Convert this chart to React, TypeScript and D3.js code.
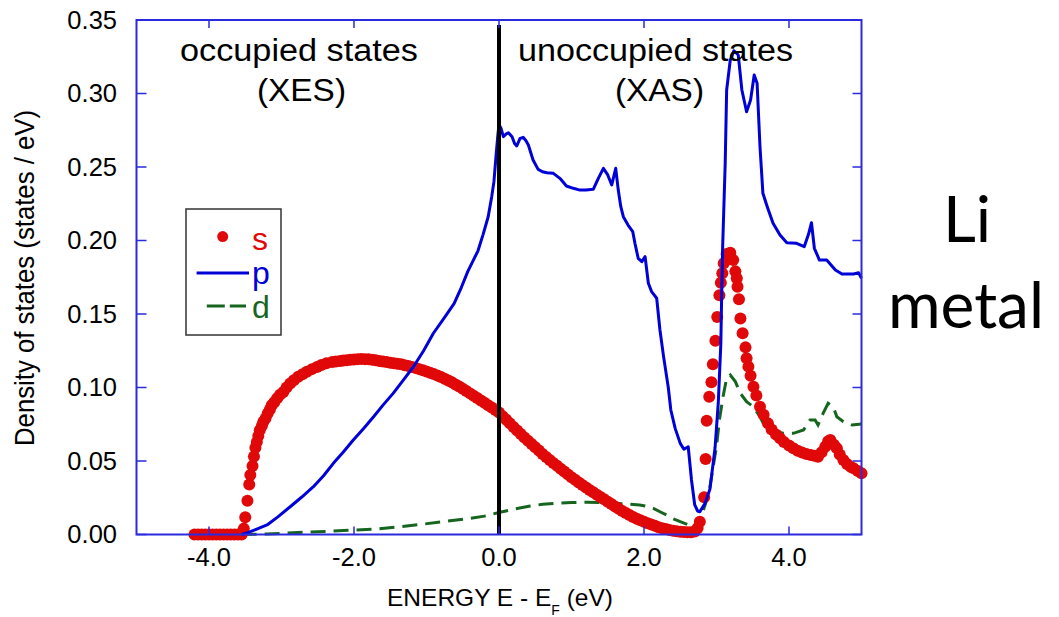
import React from "react";
import * as d3 from "d3";

// ---- data (energy E - EF in eV, DOS in states/eV) ----
const xTicks = [-4, -2, 0, 2, 4];
const xTickLabels = ["-4.0", "-2.0", "0.0", "2.0", "4.0"];
const yTicks = [0, 0.05, 0.1, 0.15, 0.2, 0.25, 0.3, 0.35];
const yTickLabels = ["0.00", "0.05", "0.10", "0.15", "0.20", "0.25", "0.30", "0.35"];

const sDots: [number, number][] = [
  [-4.2, 0], [-4.15, 0], [-4.1, 0], [-4.05, 0], [-4.0, 0], [-3.95, 0], [-3.9, 0], [-3.85, 0],
  [-3.8, 0], [-3.75, 0], [-3.7, 0], [-3.65, 0], [-3.6, 0], [-3.55, 0],
  [-3.52, 0.004], [-3.5, 0.0117], [-3.47, 0.023], [-3.445, 0.034], [-3.43, 0.0405], [-3.4, 0.0466],
  [-3.38, 0.053], [-3.36, 0.059], [-3.34, 0.063], [-3.32, 0.067], [-3.3, 0.071], [-3.27, 0.074],
  [-3.25, 0.0767], [-3.22, 0.079], [-3.19, 0.0824], [-3.16, 0.085], [-3.135, 0.088], [-3.1, 0.09],
  [-3.06, 0.0927], [-3.02, 0.095], [-2.975, 0.097], [-2.93, 0.1], [-2.88, 0.1028], [-2.83, 0.105],
  [-2.77, 0.1073], [-2.71, 0.109], [-2.65, 0.1107], [-2.58, 0.1125], [-2.51, 0.114], [-2.45, 0.1153],
  [-2.38, 0.1165], [-2.3, 0.1173], [-2.25, 0.1177], [-2.19, 0.118],
  [-2.15, 0.1183], [-2.1, 0.1186], [-2.05, 0.1189], [-2.0, 0.1191], [-1.95, 0.1193], [-1.9, 0.1194],
  [-1.85, 0.1193], [-1.8, 0.1192], [-1.75, 0.1189], [-1.7, 0.1185], [-1.65, 0.1181], [-1.6, 0.1177],
  [-1.55, 0.1173], [-1.5, 0.1169], [-1.45, 0.1165], [-1.4, 0.1161], [-1.35, 0.1158], [-1.3, 0.1152],
  [-1.25, 0.1146], [-1.2, 0.1139], [-1.15, 0.1132], [-1.1, 0.1125], [-1.05, 0.1117], [-1.0, 0.1109],
  [-0.95, 0.11], [-0.9, 0.1091], [-0.85, 0.1081], [-0.8, 0.1071], [-0.75, 0.106], [-0.7, 0.1048],
  [-0.65, 0.1036], [-0.6, 0.1021], [-0.55, 0.1007], [-0.5, 0.0992], [-0.45, 0.0976], [-0.4, 0.096],
  [-0.35, 0.0944], [-0.3, 0.0928], [-0.25, 0.0912], [-0.2, 0.0897], [-0.15, 0.088], [-0.1, 0.0864],
  [-0.05, 0.0847], [0.0, 0.083], [0.05, 0.0805], [0.1, 0.078], [0.15, 0.0756], [0.2, 0.0732],
  [0.25, 0.0708], [0.3, 0.0684], [0.35, 0.066], [0.4, 0.0637], [0.45, 0.0615], [0.5, 0.0593],
  [0.55, 0.0571], [0.6, 0.0548], [0.65, 0.0527], [0.7, 0.0507], [0.75, 0.0487], [0.8, 0.0467],
  [0.85, 0.0447], [0.9, 0.0428], [0.95, 0.0409], [1.0, 0.039], [1.05, 0.0372], [1.1, 0.0354],
  [1.15, 0.0337], [1.2, 0.032], [1.25, 0.0303], [1.3, 0.0287], [1.35, 0.0271], [1.4, 0.0255],
  [1.45, 0.0239], [1.5, 0.0223], [1.55, 0.0207], [1.6, 0.0191], [1.65, 0.0175], [1.7, 0.016],
  [1.75, 0.0146], [1.8, 0.0132], [1.85, 0.0119], [1.9, 0.0107], [1.95, 0.0097], [2.0, 0.0087],
  [2.05, 0.0077], [2.1, 0.0068], [2.15, 0.0059], [2.2, 0.005], [2.25, 0.0043], [2.3, 0.0037],
  [2.35, 0.0031], [2.4, 0.0026], [2.45, 0.0022], [2.5, 0.0019], [2.55, 0.0017], [2.6, 0.0016],
  [2.65, 0.0016], [2.7, 0.002], [2.74, 0.0045], [2.77, 0.0087], [2.83, 0.0253], [2.85, 0.0514],
  [2.865, 0.0774], [2.9, 0.0937], [2.93, 0.1035], [2.95, 0.1158], [2.985, 0.1318], [3.01, 0.148],
  [3.04, 0.1627], [3.06, 0.1713], [3.08, 0.1777], [3.1, 0.1845], [3.14, 0.1908], [3.19, 0.1917],
  [3.23, 0.1867], [3.26, 0.179], [3.28, 0.1743], [3.29, 0.1686], [3.31, 0.16], [3.33, 0.147],
  [3.36, 0.1369], [3.4, 0.1273], [3.415, 0.1199], [3.44, 0.1142], [3.47, 0.108], [3.51, 0.1005],
  [3.55, 0.0945], [3.6, 0.0869], [3.65, 0.0815], [3.71, 0.0756], [3.76, 0.0715], [3.82, 0.068],
  [3.876, 0.0654], [3.93, 0.063], [4.0, 0.0605], [4.06, 0.0586], [4.12, 0.057], [4.18, 0.0558],
  [4.24, 0.0548], [4.3, 0.054], [4.35, 0.0535], [4.4, 0.0529], [4.45, 0.056], [4.5, 0.0597],
  [4.54, 0.0635], [4.57, 0.0643], [4.62, 0.061], [4.66, 0.0586], [4.7, 0.0545], [4.75, 0.0507],
  [4.8, 0.048], [4.85, 0.046], [4.89, 0.045], [4.95, 0.0432], [5.0, 0.0416],
];

const pLine: [number, number][] = [
  [-3.55, 0], [-3.48, 0.001], [-3.35, 0.0035], [-3.2, 0.0065], [-3.05, 0.012], [-2.88, 0.0189],
  [-2.72, 0.0255], [-2.56, 0.0325], [-2.42, 0.04], [-2.285, 0.0484], [-2.15, 0.056], [-2.01, 0.0643],
  [-1.87, 0.072], [-1.73, 0.0801], [-1.6, 0.088], [-1.46, 0.096], [-1.32, 0.105], [-1.18, 0.1141],
  [-1.04, 0.125], [-0.905, 0.1369], [-0.76, 0.147], [-0.62, 0.157], [-0.52, 0.168], [-0.43, 0.179],
  [-0.36, 0.186], [-0.29, 0.193], [-0.22, 0.204], [-0.15, 0.216], [-0.1, 0.23], [-0.07, 0.24],
  [-0.04, 0.258], [-0.015, 0.272], [0.0, 0.279], [0.03, 0.276], [0.06, 0.2706], [0.1, 0.2725],
  [0.13, 0.2733], [0.18, 0.2706], [0.215, 0.266], [0.245, 0.2643], [0.29, 0.2695], [0.335, 0.2702],
  [0.37, 0.268], [0.405, 0.265], [0.47, 0.2548], [0.54, 0.2484], [0.6, 0.2468], [0.66, 0.2461],
  [0.75, 0.2457], [0.84, 0.2423], [0.93, 0.2371], [1.025, 0.2355], [1.117, 0.2343], [1.2, 0.2343],
  [1.3, 0.2348], [1.37, 0.2423], [1.44, 0.2491], [1.5, 0.2446], [1.555, 0.2378], [1.61, 0.2491],
  [1.645, 0.2343], [1.68, 0.223], [1.715, 0.2162], [1.78, 0.2105], [1.845, 0.206], [1.875, 0.1981],
  [1.92, 0.1879], [1.97, 0.1856], [2.015, 0.189], [2.06, 0.1709], [2.105, 0.1652], [2.175, 0.1607],
  [2.22, 0.1391], [2.27, 0.121], [2.335, 0.1], [2.37, 0.0847], [2.43, 0.0722], [2.5, 0.062],
  [2.55, 0.058], [2.61, 0.0597], [2.655, 0.0371], [2.7, 0.0201], [2.74, 0.016], [2.77, 0.0155],
  [2.84, 0.021], [2.91, 0.031], [2.98, 0.059], [3.025, 0.09], [3.06, 0.13], [3.07, 0.1595],
  [3.085, 0.1958], [3.12, 0.2525], [3.14, 0.3024], [3.19, 0.3228], [3.24, 0.3291], [3.3, 0.3262],
  [3.35, 0.3024], [3.415, 0.2876], [3.47, 0.2956], [3.52, 0.3126], [3.56, 0.3069], [3.6, 0.2638],
  [3.64, 0.2321], [3.7, 0.223], [3.78, 0.2117], [3.876, 0.2037], [3.97, 0.1985], [4.105, 0.1981],
  [4.21, 0.1958], [4.27, 0.2044], [4.31, 0.2121], [4.35, 0.1947], [4.42, 0.1867], [4.52, 0.1867],
  [4.64, 0.1799], [4.73, 0.1772], [4.89, 0.1772], [4.96, 0.1781], [5.0, 0.1743],
];

const dLine: [number, number][] = [
  [-3.55, 0], [-3.2, 0.0003], [-2.7, 0.0015], [-2.35, 0.0022], [-2.02, 0.003], [-1.69, 0.0037],
  [-1.365, 0.0053], [-1.04, 0.0071], [-0.72, 0.009], [-0.4, 0.011], [-0.2, 0.0125], [0.0, 0.015],
  [0.2, 0.0172], [0.43, 0.0194], [0.6, 0.0205], [0.8, 0.0212], [1.0, 0.0217], [1.21, 0.0219],
  [1.4, 0.0217], [1.58, 0.0212], [1.76, 0.0207], [1.94, 0.0201], [2.04, 0.0192], [2.13, 0.0178],
  [2.22, 0.0155], [2.31, 0.0133], [2.4, 0.0108], [2.5, 0.0087], [2.6, 0.0068], [2.68, 0.0053],
  [2.75, 0.0042], [2.79, 0.009], [2.82, 0.0167], [2.865, 0.0235], [2.91, 0.0325], [2.95, 0.045],
  [3.0, 0.0597], [3.04, 0.0779], [3.09, 0.0937], [3.14, 0.1063], [3.19, 0.1085], [3.26, 0.104],
  [3.33, 0.096], [3.415, 0.0903], [3.51, 0.0869], [3.6, 0.0801], [3.67, 0.0733], [3.78, 0.0711],
  [3.92, 0.0688], [4.06, 0.0688], [4.2, 0.0711], [4.29, 0.0779], [4.36, 0.0779], [4.4, 0.0745],
  [4.47, 0.0824], [4.54, 0.0893], [4.61, 0.0869], [4.66, 0.0801], [4.75, 0.0767], [4.87, 0.0745],
  [5.0, 0.0752],
];

const W = 1059;
const H = 617;
const M = { left: 136.5, right: 861.5, top: 20, bottom: 534.5 };
const FONT = "'Liberation Sans', Arial, Helvetica, sans-serif";
const AXIS = "#2a2ade";
const RED = "#e00808";
const BLUE = "#0000d8";
const GREEN = "#15651f";

export default function App() {
  const x = d3.scaleLinear().domain([-5, 5]).range([M.left, M.right]);
  const y = d3.scaleLinear().domain([0, 0.35]).range([M.bottom, M.top]);
  const line = d3
    .line<[number, number]>()
    .x((d) => x(d[0]))
    .y((d) => y(d[1]));

  return (
    <svg
      width={W}
      height={H}
      style={{ position: "absolute", left: 0, top: 0, background: "#fff" }}
      fontFamily={FONT}
    >
      <rect x={0} y={0} width={W} height={H} fill="#fff" />

      {/* curves */}
      <path d={line(dLine) || ""} fill="none" stroke={GREEN} strokeWidth={3} strokeDasharray="15 8" />
      <g fill={RED}>
        {sDots.map((d, i) => (
          <circle key={i} cx={x(d[0])} cy={y(d[1])} r={6} />
        ))}
      </g>
      <path d={line(pLine) || ""} fill="none" stroke={BLUE} strokeWidth={3} strokeLinejoin="round" />

      {/* Fermi level */}
      <line x1={x(0)} x2={x(0)} y1={M.top + 5} y2={M.bottom} stroke="#000" strokeWidth={4} />

      {/* frame and ticks */}
      <rect
        x={M.left}
        y={M.top}
        width={M.right - M.left}
        height={M.bottom - M.top}
        fill="none"
        stroke={AXIS}
        strokeWidth={2}
      />
      {yTicks.map((t, i) => (
        <g key={"y" + i}>
          <line x1={M.left} x2={M.left + 10} y1={y(t)} y2={y(t)} stroke={AXIS} strokeWidth={1.5} />
          <line x1={M.right - 9} x2={M.right} y1={y(t)} y2={y(t)} stroke={AXIS} strokeWidth={1.5} />
          <text x={117} y={y(t)} dy="0.35em" textAnchor="end" fontSize={25.5} fill="#000">
            {yTickLabels[i]}
          </text>
        </g>
      ))}
      {xTicks.map((t, i) => (
        <g key={"x" + i}>
          <line x1={x(t)} x2={x(t)} y1={M.top} y2={M.top + 8} stroke={AXIS} strokeWidth={1.5} />
          <line x1={x(t)} x2={x(t)} y1={M.bottom - 8} y2={M.bottom} stroke={AXIS} strokeWidth={1.5} />
          <text x={x(t)} y={566} textAnchor="middle" fontSize={25.5} fill="#000">
            {xTickLabels[i]}
          </text>
        </g>
      ))}

      {/* axis titles */}
      <text x={500} y={606} textAnchor="middle" fontSize={24.5} fill="#000">
        ENERGY E - E
        <tspan fontSize={14} dy={9}>F</tspan>
        <tspan dy={-9}> (eV)</tspan>
      </text>
      <text
        transform="translate(34,278) rotate(-90)"
        textAnchor="middle"
        fontSize={28}
        textLength={336}
        lengthAdjust="spacingAndGlyphs"
        fill="#000"
      >
        Density of states (states / eV)
      </text>

      {/* annotations */}
      <text x={180} y={61} fontSize={31} textLength={238} lengthAdjust="spacingAndGlyphs" fill="#000">
        occupied states
      </text>
      <text x={257} y={101} fontSize={31} textLength={89} lengthAdjust="spacingAndGlyphs" fill="#000">
        (XES)
      </text>
      <text x={518} y={61} fontSize={31} textLength={275} lengthAdjust="spacingAndGlyphs" fill="#000">
        unoccupied states
      </text>
      <text x={615} y={101} fontSize={31} textLength={89} lengthAdjust="spacingAndGlyphs" fill="#000">
        (XAS)
      </text>

      {/* legend */}
      <rect x={186} y={209} width={95} height={126} fill="#fff" stroke="#333" strokeWidth={1.5} />
      <circle cx={222.7} cy={236.6} r={5.5} fill={RED} />
      <text x={252} y={250} fontSize={32} fill={RED}>s</text>
      <line x1={196.6} x2={249} y1={273} y2={273} stroke={BLUE} strokeWidth={3} />
      <text x={252} y={284} fontSize={32} fill={BLUE}>p</text>
      <line x1={206.8} x2={246} y1={306} y2={306} stroke={GREEN} strokeWidth={3} strokeDasharray="18 5" />
      <text x={252} y={318} fontSize={32} fill={GREEN}>d</text>

      {/* side label */}
      <text x={967} y={242} textAnchor="middle" fontSize={64} fontFamily="Lato, 'Open Sans', sans-serif" fill="#000">
        Li
      </text>
      <text x={966} y={328} textAnchor="middle" fontSize={64} fontFamily="Lato, 'Open Sans', sans-serif" fill="#000">
        metal
      </text>
    </svg>
  );
}
